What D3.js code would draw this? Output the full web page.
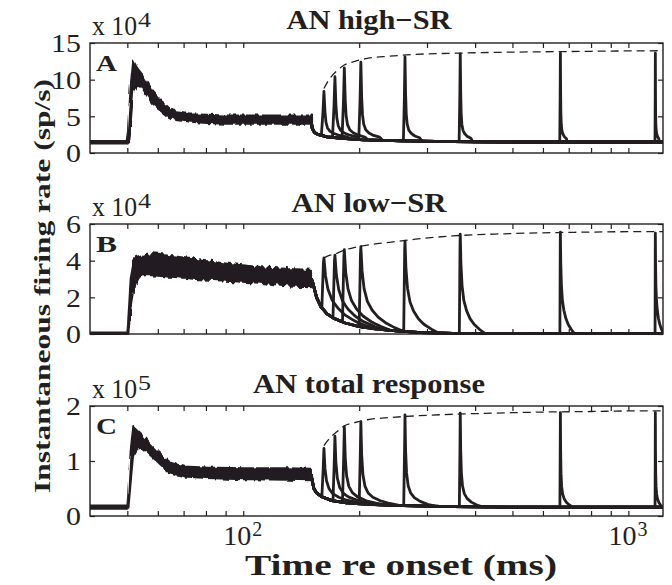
<!DOCTYPE html>
<html><head><meta charset="utf-8">
<script src="https://cdn.jsdelivr.net/npm/d3@7"></script>
<style>body{margin:0;background:#fff} text{font-family: "Liberation Serif", "Times New Roman", Times, serif;}</style>
</head><body>
<svg id="chart" width="672" height="585"></svg>
<script>
// ---------------- DATA ----------------
const xDomain = [40, 1230];
const xMajorTicks = [100, 1000];
const xMajorExponents = ["2", "3"];
const xMinorTicks = [50, 60, 70, 80, 90, 200, 300, 400, 500, 600, 700, 800, 900];

const panelTitles = ["AN high\u2212SR", "AN low\u2212SR", "AN total response"];
const panelLetters = ["A", "B", "C"];
const yExponents = ["4", "4", "5"];
const yDomains = [[0, 15], [0, 6], [0, 2]];
const yTicksA = [0, 5, 10, 15];
const yTicksB = [0, 2, 4, 6];
const yTicksC = [0, 1, 2];

// masker onset (ms) - before it, the traces sit at spontaneous rate
const maskerOnset = 50;

// probe peak times (ms)
const probePeakTimes = [162, 173, 183, 202, 263, 366, 666, 1175];
// probe peak heights (axis units)
const probePeaksA = [8.4, 10.4, 11.6, 12.4, 13.1, 13.5, 13.6, 13.6];
const probePeaksB = [4.15, 4.3, 4.6, 4.76, 5.07, 5.44, 5.55, 5.5];
const probePeaksC = [1.23, 1.45, 1.62, 1.71, 1.84, 1.87, 1.88, 1.88];

// masker response envelope (all traces overlaid), 40-150 ms
const maskerTimeA  = [40, 49.8, 50.2, 51, 51.8, 53, 54.5, 56, 58, 61, 64, 67, 72, 80, 90, 110, 130, 150];
const maskerUpperA = [1.65, 1.65, 3.0, 9.0, 12.6, 11.6, 10.8, 9.8, 8.5, 7.2, 6.2, 5.6, 5.3, 5.2, 5.1, 5.1, 5.1, 5.1];
const maskerLowerA = [1.3, 1.3, 1.3, 4.0, 8.5, 9.3, 9.0, 8.0, 6.8, 5.9, 5.0, 4.5, 4.3, 4.1, 4.0, 4.0, 4.0, 4.0];

const maskerTimeB  = [40, 50, 50.3, 51, 52, 53, 55, 58, 62, 68, 75, 90, 110, 130, 150];
const maskerUpperB = [0.08, 0.08, 0.8, 3.0, 4.0, 4.2, 4.3, 4.35, 4.3, 4.2, 4.05, 3.85, 3.65, 3.55, 3.5];
const maskerLowerB = [0, 0, 0, 1.5, 2.6, 3.0, 3.2, 3.2, 3.15, 3.1, 3.0, 2.9, 2.8, 2.65, 2.6];

const maskerTimeC  = [40, 50, 50.3, 51, 51.8, 53, 54.5, 56.5, 60, 64, 70, 80, 100, 130, 150];
const maskerUpperC = [0.19, 0.19, 0.4, 1.2, 1.62, 1.55, 1.47, 1.35, 1.16, 0.98, 0.9, 0.88, 0.87, 0.87, 0.86];
const maskerLowerC = [0.13, 0.13, 0.13, 0.6, 1.1, 1.22, 1.24, 1.15, 0.98, 0.8, 0.72, 0.69, 0.67, 0.66, 0.65];

// recovery after masker offset (ms, axis units)
const postTimeA  = [150, 151, 153, 157, 165, 180, 205, 260, 350, 500, 1240];
const postValueA = [4.5, 3.4, 2.8, 2.5, 2.2, 2.0, 1.8, 1.65, 1.55, 1.5, 1.5];
const postTimeB  = [150, 151, 152, 155, 159, 165, 172, 184, 200, 220, 245, 290, 350, 1240];
const postValueB = [3.0, 2.9, 2.7, 2.0, 1.5, 1.1, 0.85, 0.6, 0.4, 0.28, 0.18, 0.08, 0.03, 0.02];
const postTimeC  = [150, 151, 152.5, 155, 160, 170, 185, 210, 260, 350, 500, 1240];
const postValueC = [0.76, 0.65, 0.5, 0.42, 0.35, 0.28, 0.24, 0.21, 0.19, 0.17, 0.16, 0.16];

// probe response shape: ms relative to peak, fraction of peak above recovery level
const kernelDtA = [-2.5, -1, 0, 1, 2, 3.5, 6, 10, 16, 24, 28];
const kernelA   = [0, 0.5, 1, 0.55, 0.32, 0.2, 0.13, 0.09, 0.06, 0.04, 0];
const kernelDtB = [-2, -0.5, 0, 1.5, 4, 8, 14, 22, 32, 45, 58];
const kernelB   = [0, 0.9, 1, 0.7, 0.48, 0.33, 0.23, 0.15, 0.09, 0.04, 0];
const kernelDtC = [-2, -0.7, 0, 1, 2.5, 5, 9, 15, 25, 38, 52];
const kernelC   = [0, 0.6, 1, 0.6, 0.36, 0.22, 0.14, 0.09, 0.05, 0.02, 0];

// dashed recovery curve through the probe peaks
const dashTime = [162, 168, 175, 183, 195, 210, 240, 280, 350, 450, 600, 800, 1000, 1230];
const dashA = [8.8, 10.2, 11.2, 12.0, 12.5, 12.9, 13.2, 13.45, 13.6, 13.72, 13.8, 13.87, 13.92, 13.95];
const dashB = [4.15, 4.3, 4.4, 4.58, 4.72, 4.85, 5.0, 5.17, 5.35, 5.45, 5.52, 5.56, 5.58, 5.58];
const dashC = [1.28, 1.42, 1.53, 1.64, 1.7, 1.75, 1.79, 1.82, 1.85, 1.87, 1.89, 1.9, 1.91, 1.91];

// ---------------- LAYOUT ----------------
const INK = "#231f20";
const plotLeft = 90, plotRight = 663, plotH = 110;
const panelTops = [43, 224, 406];
const titleX = 369;
const titleBaselines = [29, 212, 393];
const titleLengths = [165, 155, 232];
const roughScale = [5, 8, 5];

const panels = [
  {yTicks: yTicksA, peaks: probePeaksA, mT: maskerTimeA, mU: maskerUpperA, mL: maskerLowerA,
   pT: postTimeA, pV: postValueA, kT: kernelDtA, kV: kernelA, dash: dashA},
  {yTicks: yTicksB, peaks: probePeaksB, mT: maskerTimeB, mU: maskerUpperB, mL: maskerLowerB,
   pT: postTimeB, pV: postValueB, kT: kernelDtB, kV: kernelB, dash: dashB},
  {yTicks: yTicksC, peaks: probePeaksC, mT: maskerTimeC, mU: maskerUpperC, mL: maskerLowerC,
   pT: postTimeC, pV: postValueC, kT: kernelDtC, kV: kernelC, dash: dashC}
];

const svg = d3.select("#chart");
const x = d3.scaleLog().domain(xDomain).range([plotLeft, plotRight]);

// texture filters giving the jagged look of overlaid traces (style only)
const defs = svg.append("defs");
roughScale.forEach((s, i) => {
  const f = defs.append("filter").attr("id", "rough" + i)
    .attr("x", "-2%").attr("y", "-30%").attr("width", "104%").attr("height", "160%");
  f.append("feTurbulence").attr("type", "fractalNoise").attr("baseFrequency", "0.28 0.03")
    .attr("numOctaves", 1).attr("seed", 7 + i).attr("result", "n");
  f.append("feDisplacementMap").attr("in", "SourceGraphic").attr("in2", "n")
    .attr("scale", s).attr("xChannelSelector", "A").attr("yChannelSelector", "G");
});

function txt(parent, s, xx, yy, size, len, bold, anchor) {
  const t = parent.append("text").attr("x", xx).attr("y", yy)
    .attr("font-size", size).attr("fill", INK)
    .attr("font-weight", bold ? "bold" : "normal")
    .attr("text-anchor", anchor || "start").text(s);
  if (len) t.attr("textLength", len).attr("lengthAdjust", "spacingAndGlyphs");
  return t;
}

panels.forEach((p, i) => {
  const top = panelTops[i];
  const y = d3.scaleLinear().domain(yDomains[i]).range([top + plotH, top]);
  const g = svg.append("g");
  const xOn = x(maskerOnset);

  g.append("clipPath").attr("id", "clip" + i)
    .append("rect").attr("x", plotLeft).attr("y", top - 2).attr("width", plotRight - plotLeft).attr("height", plotH + 4);
  g.append("clipPath").attr("id", "clipPre" + i)
    .append("rect").attr("x", plotLeft).attr("y", top - 2).attr("width", xOn - plotLeft + 0.5).attr("height", plotH + 4);
  g.append("clipPath").attr("id", "clipOn" + i)
    .append("rect").attr("x", xOn).attr("y", top - 2).attr("width", plotRight - xOn).attr("height", plotH + 4);
  const plot = g.append("g").attr("clip-path", `url(#clip${i})`);

  // masker envelope: flat spontaneous part drawn plainly, driven part with jagged texture
  const maskerPts = p.mT.map((t, j) => ({t, lo: p.mL[j], hi: p.mU[j]}));
  const area = d3.area().x(d => x(d.t)).y0(d => y(d.lo)).y1(d => y(d.hi));
  plot.append("g").attr("clip-path", `url(#clipPre${i})`).append("path").datum(maskerPts)
    .attr("d", area).attr("fill", INK).attr("stroke", INK).attr("stroke-width", 2)
    .attr("stroke-linejoin", "round");
  plot.append("g").attr("clip-path", `url(#clipOn${i})`)
    .append("g").attr("filter", `url(#rough${i})`).append("path").datum(maskerPts)
    .attr("d", area).attr("fill", INK).attr("stroke", INK).attr("stroke-width", 2)
    .attr("stroke-linejoin", "round");

  // traces after offset with probe responses
  const decay = d3.scaleLinear().domain(p.pT).range(p.pV).clamp(true);
  const kern = d3.scaleLinear().domain(p.kT).range(p.kV).clamp(true);
  probePeakTimes.forEach((tp, k) => {
    const excess = p.peaks[k] - decay(tp);
    const ts = Array.from(new Set(p.pT.concat(p.kT.map(d => tp + d))))
      .filter(t => t >= 150 && t <= 1240).sort((a, b) => a - b);
    const pts = ts.map(t => [t, decay(t) + excess * kern(t - tp)]);
    plot.append("path").datum(pts)
      .attr("d", d3.line().x(d => x(d[0])).y(d => y(d[1])))
      .attr("fill", "none").attr("stroke", INK).attr("stroke-width", 2.8)
      .attr("stroke-linejoin", "round");
  });

  // dashed recovery curve
  plot.append("path").datum(dashTime.map((t, j) => [t, p.dash[j]]))
    .attr("d", d3.line().curve(d3.curveMonotoneX).x(d => x(d[0])).y(d => y(d[1])))
    .attr("fill", "none").attr("stroke", INK).attr("stroke-width", 1.3)
    .attr("stroke-dasharray", "8,5");

  // axes (MATLAB style inward ticks)
  const allX = xMinorTicks.concat(xMajorTicks);
  g.append("g").attr("transform", `translate(0,${top + plotH})`)
    .call(d3.axisBottom(x).tickValues(allX).tickSize(-5).tickFormat(""))
    .call(a => a.select(".domain").remove())
    .selectAll("line").attr("stroke", INK).attr("stroke-width", 1.2);
  g.append("g").attr("transform", `translate(0,${top})`)
    .call(d3.axisTop(x).tickValues(allX).tickSize(-5).tickFormat(""))
    .call(a => a.select(".domain").remove())
    .selectAll("line").attr("stroke", INK).attr("stroke-width", 1.2);
  const yl = g.append("g").attr("transform", `translate(${plotLeft},0)`)
    .call(d3.axisLeft(y).tickValues(p.yTicks).tickSize(-5).tickPadding(9).tickFormat(d3.format("d")))
    .call(a => a.select(".domain").remove());
  yl.selectAll("line").attr("stroke", INK).attr("stroke-width", 1.2);
  yl.selectAll("text").attr("font-family", null).attr("font-size", 26).attr("fill", INK)
    .attr("dy", "0.34em");
  yl.selectAll("text").each(function () {
    const l = this.getComputedTextLength();
    d3.select(this).attr("textLength", l * 1.15).attr("lengthAdjust", "spacingAndGlyphs");
  });
  g.append("g").attr("transform", `translate(${plotRight},0)`)
    .call(d3.axisRight(y).tickValues(p.yTicks).tickSize(-5).tickFormat(""))
    .call(a => a.select(".domain").remove())
    .selectAll("line").attr("stroke", INK).attr("stroke-width", 1.2);

  // box
  g.append("rect").attr("x", plotLeft).attr("y", top).attr("width", plotRight - plotLeft).attr("height", plotH)
    .attr("fill", "none").attr("stroke", INK).attr("stroke-width", 1.4);

  // title
  txt(g, panelTitles[i], titleX, titleBaselines[i], 27, titleLengths[i], true, "middle");

  // multiplier "x 10^n"
  txt(g, "x 10", 92, top - 8, 27, 45, false);
  txt(g, yExponents[i], 138, top - 16, 21, 13, false);

  // panel letter
  txt(g, panelLetters[i], 96, top + 28, 24, 21, true);
});

// x tick labels (bottom panel)
const lastBottom = panelTops[2] + plotH;
xMajorTicks.forEach((v, j) => {
  const cx = x(v);
  txt(svg, "10", cx - 20, lastBottom + 29, 27, 28, false);
  txt(svg, xMajorExponents[j], cx + 9, lastBottom + 20, 21, 10, false);
});

// axis labels
txt(svg, "Time re onset (ms)", 401, 575, 30, 312, true, "middle");
svg.append("text").attr("transform", "translate(50,286) rotate(-90)").attr("text-anchor", "middle")
  .attr("font-weight", "bold").attr("font-size", 24).attr("fill", INK)
  .attr("textLength", 414).attr("lengthAdjust", "spacingAndGlyphs")
  .text("Instantaneous firing rate (sp/s)");
</script>
</body></html>
